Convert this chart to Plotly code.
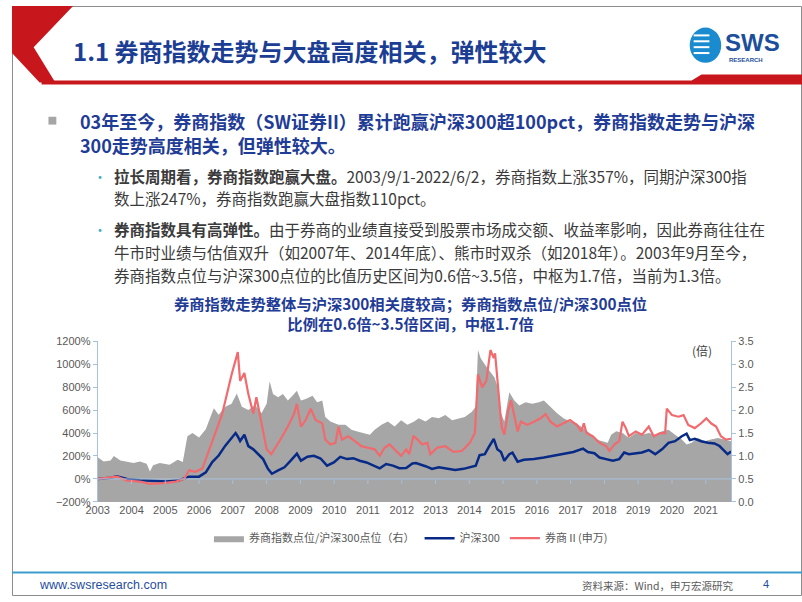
import plotly.graph_objects as go

# ---------------- data ----------------
ratio_dates = ["2003-09-01","2003-11-05","2004-01-18","2004-02-23","2004-05-03","2004-07-14","2004-09-23","2004-12-01",
    "2005-02-11","2005-03-19","2005-04-22","2005-07-03","2005-10-17","2006-01-13","2006-03-09","2006-04-28","2006-06-22",
    "2006-09-01","2006-11-13","2007-01-04","2007-02-08","2007-04-01","2007-06-12","2007-08-19","2007-10-14","2007-12-08",
    "2008-02-16","2008-04-28","2008-07-07","2008-09-01","2008-10-03","2008-11-09","2009-01-03","2009-02-24","2009-04-18",
    "2009-06-07","2009-07-25","2009-09-07","2009-10-28","2010-01-10","2010-03-01","2010-04-25","2010-05-28","2010-07-22",
    "2010-09-15","2010-10-18","2011-01-01","2011-03-07","2011-05-19","2011-07-28","2011-09-22","2011-11-13","2012-01-25",
    "2012-04-04","2012-06-16","2012-08-25","2012-11-01","2013-01-13","2013-03-04","2013-05-16","2013-07-25","2013-10-07",
    "2013-12-16","2014-02-27","2014-05-06","2014-07-14","2014-09-26","2014-11-10","2014-12-04","2015-01-03","2015-02-16",
    "2015-04-07","2015-06-01","2015-07-07","2015-08-10","2015-09-15","2015-11-08","2016-01-01","2016-02-24","2016-05-01",
    "2016-07-13","2016-09-22","2016-11-16","2017-01-25","2017-04-07","2017-06-16","2017-08-25","2017-11-06","2018-01-13",
    "2018-03-25","2018-06-04","2018-08-16","2018-10-07","2018-11-13","2019-01-07","2019-03-16","2019-05-24","2019-08-06",
    "2019-10-13","2019-12-25","2020-03-04","2020-05-16","2020-07-25","2020-10-04","2020-12-16","2021-02-06","2021-04-01",
    "2021-06-07","2021-08-19","2021-10-28","2022-01-10","2022-03-19","2022-06-02"]
ratio_vals = [0.97,0.88,0.90,1.00,0.90,0.87,0.85,0.88,
    0.83,0.66,0.80,0.85,0.81,0.92,0.87,1.43,1.50,
    1.40,1.58,1.86,2.04,1.90,2.07,2.14,2.36,2.07,
    2.00,2.11,1.93,2.14,2.63,2.35,2.28,2.35,2.21,
    2.31,2.42,2.21,2.24,2.31,2.17,2.21,1.85,1.75,
    1.71,1.68,1.68,1.57,1.53,1.50,1.46,1.57,1.68,
    1.75,1.64,1.78,1.68,1.75,1.82,1.75,1.85,1.82,
    1.89,1.78,1.82,1.85,1.96,2.07,3.31,3.13,2.99,
    2.85,2.71,2.49,1.93,1.75,2.39,2.21,2.10,2.17,
    2.14,2.17,2.21,2.07,1.93,1.82,1.75,1.71,1.61,
    1.50,1.36,1.32,1.29,1.46,1.54,1.50,1.39,1.50,
    1.46,1.50,1.46,1.54,1.57,1.46,1.36,1.25,1.29,
    1.39,1.32,1.36,1.39,1.36,1.32]

hs300_dates = ["2003-09-01","2004-01-18","2004-03-26","2004-07-14","2004-12-01","2005-04-22","2005-09-13","2006-02-01",
    "2006-05-16","2006-09-01","2006-11-13","2007-01-22","2007-04-01","2007-06-12","2007-08-06","2007-10-01","2007-10-25",
    "2007-11-19","2008-01-04","2008-02-16","2008-04-10","2008-06-01","2008-07-25","2008-09-15","2008-10-28","2009-01-03",
    "2009-03-12","2009-05-19","2009-07-25","2009-09-07","2009-11-16","2010-01-25","2010-04-07","2010-06-16","2010-08-28",
    "2010-11-06","2011-01-19","2011-03-26","2011-06-04","2011-08-16","2011-10-25","2012-01-07","2012-03-16","2012-05-28",
    "2012-08-06","2012-10-19","2012-12-25","2013-02-01","2013-05-16","2013-07-25","2013-10-07","2014-01-22","2014-04-01",
    "2014-07-01","2014-09-26","2014-11-10","2014-12-22","2015-02-16","2015-04-07","2015-05-24","2015-07-01","2015-08-10",
    "2015-09-15","2015-11-08","2015-12-12","2016-02-06","2016-04-13","2016-08-01","2016-11-16","2017-03-01","2017-06-16",
    "2017-10-01","2018-01-13","2018-03-07","2018-05-16","2018-07-10","2018-09-19","2018-12-01","2019-02-09","2019-04-03",
    "2019-05-24","2019-08-06","2019-10-13","2019-12-25","2020-03-04","2020-05-16","2020-07-25","2020-10-04","2020-12-16",
    "2021-02-06","2021-03-13","2021-05-06","2021-07-13","2021-09-25","2021-12-04","2022-01-28","2022-03-19","2022-04-25",
    "2022-06-02"]
hs300_vals = [0,11,23,0,-11,-17,-23,-11,
    20,20,57,147,204,290,340,400,370,
    330,385,286,258,215,173,88,45,74,
    102,159,221,159,193,201,178,116,144,
    193,173,181,159,144,122,93,130,116,
    93,95,135,139,111,88,102,88,79,
    88,108,116,207,216,287,349,258,235,
    159,216,230,150,167,173,187,201,216,
    235,264,235,224,187,173,159,173,230,
    216,221,230,252,216,258,315,329,372,
    394,338,349,329,315,309,287,244,216,
    240]

broker_dates = ["2003-09-01","2004-01-18","2004-03-26","2004-07-14","2004-12-01","2005-03-19","2005-08-07","2005-12-25",
    "2006-03-25","2006-05-16","2006-07-25","2006-10-07","2007-01-04","2007-02-28","2007-05-07","2007-08-19","2007-10-25",
    "2007-11-19","2008-01-04","2008-02-16","2008-04-10","2008-05-13","2008-07-07","2008-09-01","2008-10-21","2008-12-16",
    "2009-02-06","2009-04-18","2009-06-25","2009-07-25","2009-09-07","2009-10-28","2009-12-22","2010-02-12","2010-04-25",
    "2010-05-28","2010-07-22","2010-09-15","2010-10-18","2010-11-24","2011-02-01","2011-04-13","2011-06-22","2011-09-01",
    "2011-11-13","2012-01-07","2012-02-28","2012-04-22","2012-07-01","2012-08-25","2012-10-19","2012-11-20","2013-01-06",
    "2013-02-01","2013-04-10","2013-06-04","2013-07-07","2013-09-19","2013-12-16","2014-03-13","2014-06-12","2014-09-07",
    "2014-11-01","2014-12-04","2015-01-18","2015-03-04","2015-04-18","2015-05-24","2015-06-07","2015-07-07","2015-08-16",
    "2015-09-15","2015-10-28","2015-11-27","2016-01-01","2016-02-06","2016-03-12","2016-05-19","2016-08-01","2016-10-10",
    "2016-12-04","2017-01-25","2017-04-07","2017-06-16","2017-08-25","2017-11-06","2017-12-26","2018-01-22","2018-02-19",
    "2018-04-28","2018-07-10","2018-09-19","2018-10-25","2018-12-19","2019-02-09","2019-03-16","2019-04-21","2019-05-24",
    "2019-08-06","2019-10-13","2019-12-25","2020-02-16","2020-04-28","2020-06-19","2020-07-07","2020-09-01","2020-11-10",
    "2021-01-04","2021-02-24","2021-05-06","2021-07-13","2021-09-07","2021-10-28","2021-12-22","2022-02-12","2022-04-07",
    "2022-06-02"]
broker_vals = [0,11,20,-14,-23,-42,-37,-23,
    0,76,62,91,289,416,560,910,1105,
    853,923,739,569,711,484,258,215,286,
    357,456,569,654,456,513,612,513,484,
    343,300,314,456,343,371,329,286,272,
    258,201,272,300,244,201,258,216,371,
    357,300,315,216,272,286,235,244,315,
    400,911,797,854,1123,1052,1095,797,457,
    386,599,684,542,414,499,471,499,528,
    565,499,457,485,513,471,414,485,400,
    372,315,287,244,301,329,499,443,372,
    414,386,457,372,400,400,613,556,542,
    556,471,443,485,528,485,457,372,343,
    350]

year_ticks = ["2003-09-01","2004-09-01","2005-09-01","2006-09-01","2007-09-01","2008-09-01","2009-09-01","2010-09-01",
    "2011-09-01","2012-09-01","2013-09-01","2014-09-01","2015-09-01","2016-09-01","2017-09-01","2018-09-01",
    "2019-09-01","2020-09-01","2021-09-01"]
year_labels = [d[:4] for d in year_ticks]

assert len(ratio_dates) == len(ratio_vals)
assert len(hs300_dates) == len(hs300_vals)
assert len(broker_dates) == len(broker_vals)

# ---------------- layout helpers ----------------
W, H = 802, 602
def fx(x): return x / W
def fy(y): return 1 - y / H

CJK = "Noto Sans CJK SC"
LAT = "Liberation Sans, Arial, sans-serif"
BLUE_T = "#1F3C96"
BODY = "#3B3B3B"
AXC = "#A7C2DE"

fig = go.Figure()
fig.add_trace(go.Scatter(x=ratio_dates, y=ratio_vals, yaxis="y", mode="lines", fill="tozeroy",
                         line=dict(width=0, color="#A6A6A6"), fillcolor="#A6A6A6",
                         name="券商指数点位/沪深300点位（右）"))
fig.add_trace(go.Scatter(x=hs300_dates, y=hs300_vals, yaxis="y2", mode="lines",
                         line=dict(width=2.5, color="#082A87"), name="沪深300"))
fig.add_trace(go.Scatter(x=broker_dates, y=broker_vals, yaxis="y2", mode="lines",
                         line=dict(width=2.2, color="#F06A6E"), name="券商Ⅱ(申万)"))

shapes = []
shapes.append(dict(type="rect", xref="paper", yref="paper", x0=fx(0.5), x1=fx(801.5), y0=fy(601.5), y1=fy(0.5),
                   line=dict(color="#8C8C8C", width=1)))
def path(pts):
    return "M " + " L ".join(f"{fx(a):.5f},{fy(b):.5f}" for a, b in pts) + " Z"
shapes.append(dict(type="path", xref="paper", yref="paper", path=path([(0,0),(62,0),(22,42),(44,78),(28,78),(0,48)]),
                   fillcolor="#C8161D", line=dict(width=0)))
shapes.append(dict(type="path", xref="paper", yref="paper", path=path([(30,76),(690,76),(700,70),(802,70),(802,80),(30,80)]),
                   fillcolor="#C8161D", line=dict(width=0)))
shapes.append(dict(type="circle", xref="paper", yref="paper", x0=fx(688), x1=fx(720), y0=fy(58), y1=fy(22),
                   fillcolor="#1B8BD0", line=dict(width=0)))
for yy in (30, 36, 42, 48):
    shapes.append(dict(type="line", xref="paper", yref="paper", x0=fx(692), x1=fx(708), y0=fy(yy), y1=fy(yy),
                       line=dict(color="white", width=2)))
shapes.append(dict(type="line", xref="paper", yref="paper", x0=0, x1=1, y0=fy(578), y1=fy(578),
                   line=dict(color="#3C9DCB", width=2)))
shapes.append(dict(type="rect", xref="paper", yref="paper", x0=fx(37), x1=fx(45), y0=fy(121), y1=fy(113),
                   fillcolor="#A6A6A6", line=dict(width=0)))
# horizontal axis crossing at 0% with small year ticks
shapes.append(dict(type="line", xref="paper", yref="y2", x0=fx(87), x1=fx(730), y0=0, y1=0,
                   line=dict(color=AXC, width=1), layer="above"))
for d in year_ticks[1:]:
    shapes.append(dict(type="line", xref="x", yref="paper", x0=d, x1=d, y0=fy(484), y1=fy(487.5),
                       line=dict(color=AXC, width=1), layer="above"))

ann = []
def text(x, y, t, size, color, anchor="left", font=CJK):
    ann.append(dict(x=fx(x), y=fy(y), xref="paper", yref="paper", text=t, showarrow=False,
                    xanchor=anchor, yanchor="middle", font=dict(family=font, size=size, color=color)))

text(60, 45, "<b>1.1 券商指数走势与大盘高度相关，弹性较大</b>", 24, "#1B3E94")
text(722, 37, "<b>SWS</b>", 24, "#1B4F9C", font=LAT)
text(726, 55, "<b>RESEARCH</b>", 6, "#1B4F9C", font=LAT)
text(67, 117, "<b>03年至今，券商指数（SW证券II）累计跑赢沪深300超100pct，券商指数走势与沪深</b>", 18, BLUE_T)
text(67, 142, "<b>300走势高度相关，但弹性较大。</b>", 18, BLUE_T)
text(80, 173, "•", 14, "#4BACC6")
text(80, 228, "•", 14, "#4BACC6")
text(102, 173, "<b>拉长周期看，券商指数跑赢大盘。</b>2003/9/1-2022/6/2，券商指数上涨357%，同期沪深300指", 15.5, BODY)
text(102, 196, "数上涨247%，券商指数跑赢大盘指数110pct。", 15.5, BODY)
text(102, 228, "<b>券商指数具有高弹性。</b>由于券商的业绩直接受到股票市场成交额、收益率影响，因此券商往往在", 15.5, BODY)
text(102, 251, "牛市时业绩与估值双升（如2007年、2014年底）、熊市时双杀（如2018年）。2003年9月至今，", 15.5, BODY)
text(102, 274, "券商指数点位与沪深300点位的比值历史区间为0.6倍~3.5倍，中枢为1.7倍，当前为1.3倍。", 15.5, BODY)
text(405, 313.5, "<b>券商指数走势整体与沪深300相关度较高；券商指数点位/沪深300点位<br>比例在0.6倍~3.5倍区间，中枢1.7倍</b>",
     15.3, BLUE_T, anchor="center")
text(700, 351, "(倍)", 12, "#404040", anchor="center")
text(25, 591, "www.swsresearch.com", 12.5, "#1F4E9E", font=LAT)
text(735, 591, "资料来源：Wind，申万宏源研究", 10.5, "#595959", anchor="right")
text(765, 590, "4", 11, "#1F4E9E", anchor="center", font=LAT)

tickfont = dict(family=LAT, size=11, color="#595959")
fig.update_layout(
    width=W, height=H, autosize=False,
    margin=dict(l=0, r=0, t=0, b=0, pad=0),
    paper_bgcolor="white", plot_bgcolor="rgba(0,0,0,0)",
    showlegend=True,
    legend=dict(orientation="h", x=fx(405), xanchor="center", y=fy(543), yanchor="middle",
                font=dict(family=CJK, size=11, color="#595959"), bgcolor="rgba(0,0,0,0)",
                itemwidth=30, tracegroupgap=0),
    xaxis=dict(domain=[fx(87), fx(730)], type="date", range=["2003-09-01", "2022-06-02"],
               tickvals=year_ticks, ticktext=year_labels, showgrid=False, zeroline=False,
               showline=False, ticks="", tickfont=tickfont),
    yaxis=dict(domain=[fy(506), fy(342)], side="right", range=[0, 3.5], dtick=0.5, tick0=0, tickformat=".1f",
               showgrid=False, zeroline=False, showline=True, linecolor=AXC, linewidth=1,
               ticks="outside", ticklen=4, tickcolor=AXC, tickfont=tickfont),
    yaxis2=dict(overlaying="y", side="left", anchor="x", range=[-200, 1200], dtick=200, tick0=0, ticksuffix="%",
                showgrid=False, zeroline=False, showline=True, linecolor=AXC, linewidth=1,
                ticks="outside", ticklen=4, tickcolor=AXC, tickfont=tickfont),
    shapes=shapes, annotations=ann,
)

post = ("document.documentElement.style.margin='0';document.documentElement.style.overflow='hidden';"
        "document.body.style.margin='0';document.body.style.padding='0';document.body.style.overflow='hidden';"
        "var gd=document.getElementById('{plot_id}');gd.style.position='fixed';gd.style.left='0px';gd.style.top='0px';")
fig.write_html("out.html", config={"displayModeBar": False}, post_script=post)
